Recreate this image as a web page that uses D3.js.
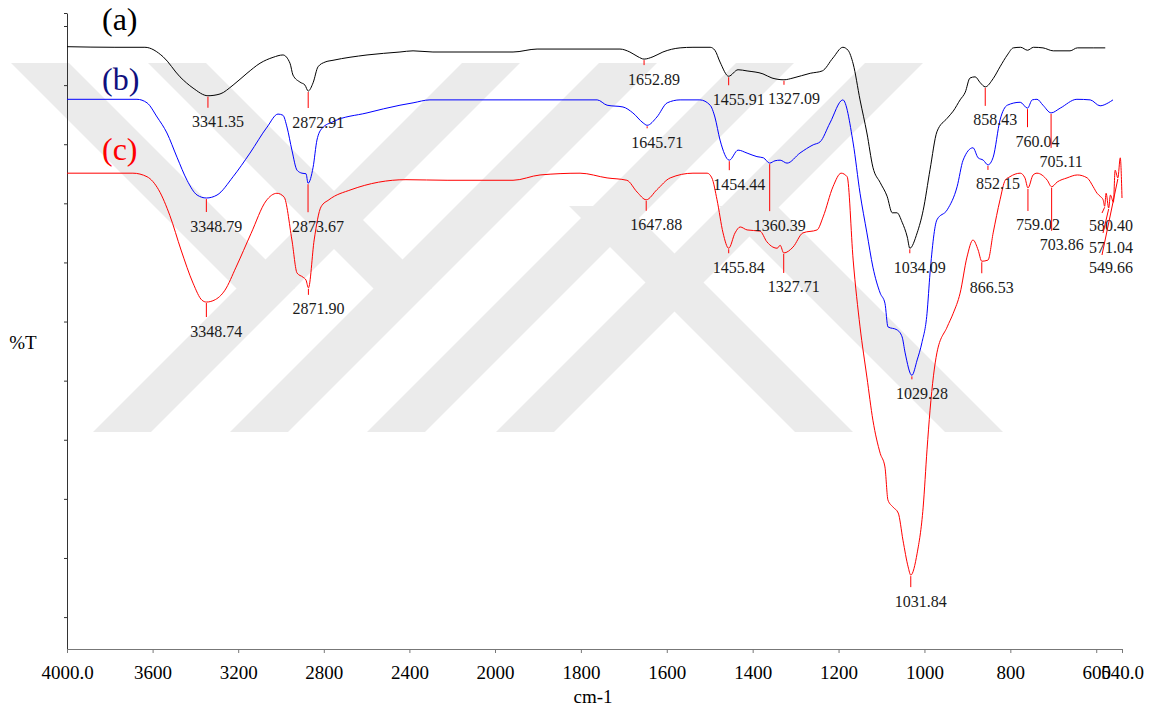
<!DOCTYPE html>
<html>
<head>
<meta charset="utf-8">
<script src="https://cdn.jsdelivr.net/npm/d3@7"></script>
<style>
  html, body { margin: 0; padding: 0; background: #fff; }
  svg { display: block; }
</style>
</head>
<body>
<svg id="chart" width="1154" height="707"></svg>
<script>
// FTIR spectra: wavenumber (cm-1) vs transmittance (%T, arbitrary offsets per sample)
const spectrumA = [
  [4000, 96.5], [3776, 96.4], [3636, 96.4], [3551, 94.8], [3472, 91.4], [3411, 89.5],
  [3341.35, 88.2], [3285, 88.5], [3224, 90.0], [3159, 92.0], [3098, 93.7], [3037, 94.7],
  [2991, 95.1], [2958, 93.7], [2944, 91.7], [2911, 90.5], [2888, 90.0], [2872.91, 89.0],
  [2850, 90.4], [2827, 93.1], [2794, 93.9], [2757, 94.2], [2598, 95.1], [2444, 95.6],
  [2383, 95.8], [2290, 95.6], [1958, 95.6], [1902, 96.1], [1709, 96.1], [1686, 95.6],
  [1667, 94.8], [1652.89, 94.4], [1632, 94.8], [1609, 95.6], [1569, 96.3], [1539, 96.4],
  [1499, 96.4], [1488, 95.9], [1476, 93.9], [1455.91, 91.5], [1434, 92.6], [1413, 92.4],
  [1376, 91.9], [1355, 91.2], [1327.09, 90.9], [1306, 91.2], [1266, 92.0], [1238, 92.4],
  [1213, 94.6], [1190, 96.4], [1178, 95.9], [1166, 93.6], [1150, 87.5], [1134, 81.9],
  [1120, 76.1], [1103, 73.5], [1087, 71.2], [1075, 68.4], [1064, 68.4], [1052, 66.8],
  [1040, 64.3], [1034.09, 62.4], [1017, 65.0], [1003, 68.8], [987, 75.7], [971, 82.1],
  [947, 84.4], [933, 85.6], [917, 87.5], [905, 88.8], [894, 91.2], [882, 91.4],
  [870, 90.4], [858.43, 89.7], [840, 91.1], [824, 93.1], [807, 95.1], [793, 96.3],
  [776, 96.4], [760, 95.9], [746, 96.4], [724, 96.3], [700, 95.8], [661, 95.8],
  [644, 96.3], [607, 96.3], [579, 96.3]
];

const spectrumB = [
  [4000, 87.6], [3673, 87.6], [3626, 87.0], [3579, 84.6], [3533, 81.9], [3486, 77.8],
  [3439, 73.9], [3392, 71.4], [3348.79, 70.9], [3299, 71.4], [3224, 74.5], [3145, 78.5],
  [3065, 82.9], [3014, 85.1], [2991, 84.9], [2972, 82.9], [2949, 79.0], [2925, 75.6],
  [2902, 75.1], [2883, 75.0], [2873.67, 73.4], [2850, 76.1], [2832, 80.7], [2808, 82.7],
  [2757, 83.8], [2598, 85.3], [2444, 86.6], [2383, 87.0], [2304, 87.5], [1958, 87.5],
  [1762, 87.5], [1739, 86.6], [1702, 86.3], [1679, 85.3], [1655, 83.6], [1645.71, 83.2],
  [1623, 84.6], [1599, 87.0], [1569, 87.5], [1523, 87.5], [1499, 86.6], [1488, 84.6],
  [1476, 80.7], [1454.44, 77.3], [1434, 79.0], [1413, 78.5], [1390, 77.9], [1375, 77.7],
  [1360.39, 76.8], [1348, 77.2], [1336, 77.3], [1320, 76.8], [1290, 78.5], [1259, 79.9],
  [1243, 80.4], [1220, 83.6], [1190, 87.5], [1166, 80.2], [1150, 71.7], [1134, 65.0],
  [1120, 59.2], [1103, 54.8], [1092, 53.1], [1085, 49.1], [1064, 48.6], [1052, 47.4],
  [1045, 44.7], [1029.28, 40.9], [1017, 43.5], [1006, 46.4], [994, 51.4], [987, 58.2],
  [971, 67.2], [947, 68.9], [924, 72.8], [910, 77.3], [887, 79.4], [875, 77.7],
  [863, 77.3], [852.15, 76.5], [840, 77.8], [824, 84.1], [807, 86.6], [777, 87.1],
  [760.04, 86.1], [749, 87.5], [738, 87.6], [724, 86.6], [705.11, 85.3], [684, 86.1],
  [645, 87.6], [614, 87.5], [591, 86.5], [572, 87.0], [561, 87.5]
];

const spectrumC = [
  [4000, 75.1], [3692, 75.1], [3626, 74.5], [3572, 72.3], [3519, 67.9], [3467, 62.1],
  [3411, 56.5], [3369, 53.6], [3348.74, 53.3], [3313, 53.6], [3262, 55.3], [3210, 59.2],
  [3140, 64.9], [3070, 70.4], [3019, 71.7], [2986, 71.1], [2949, 63.8], [2925, 58.2],
  [2897, 57.5], [2883, 57.0], [2871.90, 55.7], [2845, 63.8], [2813, 69.4], [2776, 70.6],
  [2673, 72.3], [2416, 74.0], [2224, 73.9], [1958, 73.9], [1895, 74.8], [1802, 75.1],
  [1739, 74.3], [1693, 73.9], [1669, 71.9], [1647.88, 70.6], [1623, 72.3], [1592, 74.3],
  [1539, 75.1], [1506, 75.1], [1495, 74.3], [1483, 70.6], [1469, 65.0], [1455.84, 62.4],
  [1441, 65.0], [1429, 66.0], [1413, 65.5], [1383, 65.3], [1367, 63.5], [1353, 62.6],
  [1343, 62.4], [1336, 62.9], [1327.71, 61.6], [1306, 62.6], [1283, 65.0], [1250, 65.5],
  [1236, 67.7], [1213, 72.8], [1194, 75.1], [1180, 74.5], [1166, 60.4], [1150, 49.1],
  [1134, 40.6], [1120, 33.3], [1103, 27.7], [1092, 25.4], [1085, 19.8], [1073, 18.6],
  [1061, 17.6], [1050, 13.0], [1038, 8.5], [1031.84, 7.1], [1017, 10.8], [1003, 18.6],
  [994, 28.3], [987, 35.0], [971, 44.7], [947, 49.1], [933, 51.4], [917, 54.8],
  [901, 60.9], [887, 63.8], [875, 62.1], [866.53, 60.2], [852, 60.4], [840, 65.0],
  [824, 70.6], [812, 73.9], [801, 74.5], [777, 75.1], [766, 74.3], [759.02, 72.6],
  [747, 74.8], [738, 75.1], [714, 73.9], [703.86, 72.8], [691, 73.6], [668, 74.3],
  [644, 74.8], [621, 74.3], [607, 72.8], [598, 71.7], [591, 71.2], [584, 70.6],
  [580.40, 69.5], [577, 71.7], [571.04, 69.2], [567, 71.4], [560, 70.2], [556, 75.6],
  [549.66, 74.3], [544, 77.7], [540, 70.9]
];

// Labelled absorption bands per sample
const peaksA = [3341.35, 2872.91, 1652.89, 1455.91, 1327.09, 1034.09, 858.43];
const peaksB = [3348.79, 2873.67, 1645.71, 1454.44, 1360.39, 1029.28, 852.15, 760.04, 705.11];
const peaksC = [3348.74, 2871.90, 1647.88, 1455.84, 1327.71, 1031.84, 866.53, 759.02, 703.86, 580.40, 571.04, 549.66];

// Length of each peak's tick below the trace (px), same order as the peak lists
const tailsA = [12, 17, 6, 9, 5, 5, 19];
const tailsB = [14, 29, 3, 10, 48, 4, 5, 19, 35];
const tailsC = [15, 7, 11, 5, 20, 12, 12, 23, 44];
// Crowded low-wavenumber bands of (c): leader end point and stacked label centre
const crowdedC = [
  { wn: 580.40, ex: 1102, ey: 213, lx: 1111, ly: 225 },
  { wn: 571.04, ex: 1103, ey: 233, lx: 1111, ly: 247 },
  { wn: 549.66, ex: 1102, ey: 255, lx: 1111, ly: 267 }
];

const xTicks = [4000, 3600, 3200, 2800, 2400, 2000, 1800, 1600, 1400, 1200, 1000, 800, 600, 540];
const xTickLabels = ["4000.0", "3600", "3200", "2800", "2400", "2000", "1800", "1600", "1400", "1200", "1000", "800", "600", "540.0"];
const yTicks = [0, 10, 20, 30, 40, 50, 60, 70, 80, 90, 100, 102.2];

const seriesNames = ["(a)", "(b)", "(c)"];
const seriesColors = ["#000000", "#0000ff", "#ff0000"];
const nameColors = ["#000000", "#10107e", "#ff0000"];

const serif = "'Liberation Serif', 'Times New Roman', Tinos, 'DejaVu Serif', serif";
const svg = d3.select("#chart");

// Instrument-style axis: 2x expansion below 2000 cm-1
const x = d3.scaleLinear().domain([4000, 2000, 540]).range([67, 495, 1122]);
const y = d3.scaleLinear().domain([-5.4, 102.2]).range([649, 13]);

// Background emblem (light grey diagonal bands)
const wm = svg.append("g").attr("fill", "#ebebeb");
const wmTop = 63, wmBot = 432, bw = 58;
const pts = arr => arr.map(p => p.join(",")).join(" ");
[93, 230, 367, 496].forEach(b => {
  wm.append("polygon").attr("points",
    pts([[b, wmBot], [b + bw, wmBot], [b + bw + (wmBot - wmTop), wmTop], [b + (wmBot - wmTop), wmTop]]));
});
[11, 148].forEach(t => {
  const yEnd = 289;
  wm.append("polygon").attr("points",
    pts([[t, wmTop], [t + bw, wmTop], [t + bw + (yEnd - wmTop), yEnd], [t + (yEnd - wmTop), yEnd]]));
});
[795, 945].forEach(b => {
  const yStart = 206;
  wm.append("polygon").attr("points",
    pts([[b - (wmBot - yStart), yStart], [b + bw - (wmBot - yStart), yStart], [b + bw, wmBot], [b, wmBot]]));
});

// Axes
const yAxis = d3.axisLeft(y).tickValues(yTicks).tickSize(3).tickSizeOuter(0).tickFormat("");
const gy = svg.append("g").attr("transform", "translate(67,0)").call(yAxis);
gy.select(".domain").attr("stroke", "#333");
gy.selectAll(".tick line").attr("stroke", "#333");

const xAxis = d3.axisBottom(x).tickValues(xTicks).tickSize(4).tickSizeOuter(0)
  .tickFormat((d, i) => xTickLabels[i]);
const gx = svg.append("g").attr("transform", "translate(0,649)").call(xAxis);
gx.attr("font-family", null);
gx.select(".domain").attr("stroke", "#777");
gx.selectAll(".tick line").attr("stroke", "#777");
gx.selectAll(".tick text")
  .attr("y", 29.5).attr("dy", null)
  .attr("font-size", 19).attr("fill", "#000");

svg.append("text").attr("x", 593).attr("y", 703).attr("text-anchor", "middle")
  .attr("font-size", 19).text("cm-1");
svg.append("text").attr("x", 23).attr("y", 348.5).attr("text-anchor", "middle")
  .attr("font-size", 19).text("%T");

// Spectra
const line = d3.line().x(d => x(d[0])).y(d => y(d[1])).curve(d3.curveMonotoneX);
const spectra = [spectrumA, spectrumB, spectrumC];
spectra.forEach((s, i) => {
  svg.append("path").datum(s).attr("d", line)
    .attr("fill", "none").attr("stroke", seriesColors[i]).attr("stroke-width", 1)
    .attr("stroke-linejoin", "round");
});

// Value of a spectrum at a given wavenumber (linear between samples)
function valueAt(s, wn) {
  for (let k = 0; k < s.length - 1; k++) {
    const a = s[k], b = s[k + 1];
    if ((wn <= a[0] && wn >= b[0])) {
      const t = (a[0] - wn) / (a[0] - b[0]);
      return a[1] + t * (b[1] - a[1]);
    }
  }
  return s[s.length - 1][1];
}

const peakG = svg.append("g");
function drawPeaks(s, peaks, tails) {
  tails.forEach((tail, k) => {
    const wn = peaks[k];
    const px = x(wn), py = y(valueAt(s, wn));
    peakG.append("line").attr("x1", px).attr("x2", px).attr("y1", py + 1).attr("y2", py + tail)
      .attr("stroke", "#ff0000").attr("stroke-width", 1);
    peakG.append("text").attr("x", px + 10).attr("y", py + tail + 19.5)
      .attr("text-anchor", "middle").attr("font-size", 16).attr("fill", "#1a1a1a")
      .text(wn.toFixed(2));
  });
}
drawPeaks(spectrumA, peaksA, tailsA);
drawPeaks(spectrumB, peaksB, tailsB);
drawPeaks(spectrumC, peaksC, tailsC);

crowdedC.forEach(c => {
  const px = x(c.wn), py = y(valueAt(spectrumC, c.wn));
  peakG.append("line").attr("x1", px).attr("y1", py + 1).attr("x2", c.ex).attr("y2", c.ey)
    .attr("stroke", "#ff0000").attr("stroke-width", 1);
  peakG.append("text").attr("x", c.lx).attr("y", c.ly + 5.5)
    .attr("text-anchor", "middle").attr("font-size", 16).attr("fill", "#1a1a1a")
    .text(c.wn.toFixed(2));
});

// Sample tags
const tagY = [30, 90, 160];
seriesNames.forEach((n, i) => {
  svg.append("text").attr("x", 102).attr("y", tagY[i]).attr("font-size", 32)
    .attr("fill", nameColors[i]).text(n);
});

// Serif face for every text element
svg.selectAll("text").style("font-family", serif);
</script>
</body>
</html>
